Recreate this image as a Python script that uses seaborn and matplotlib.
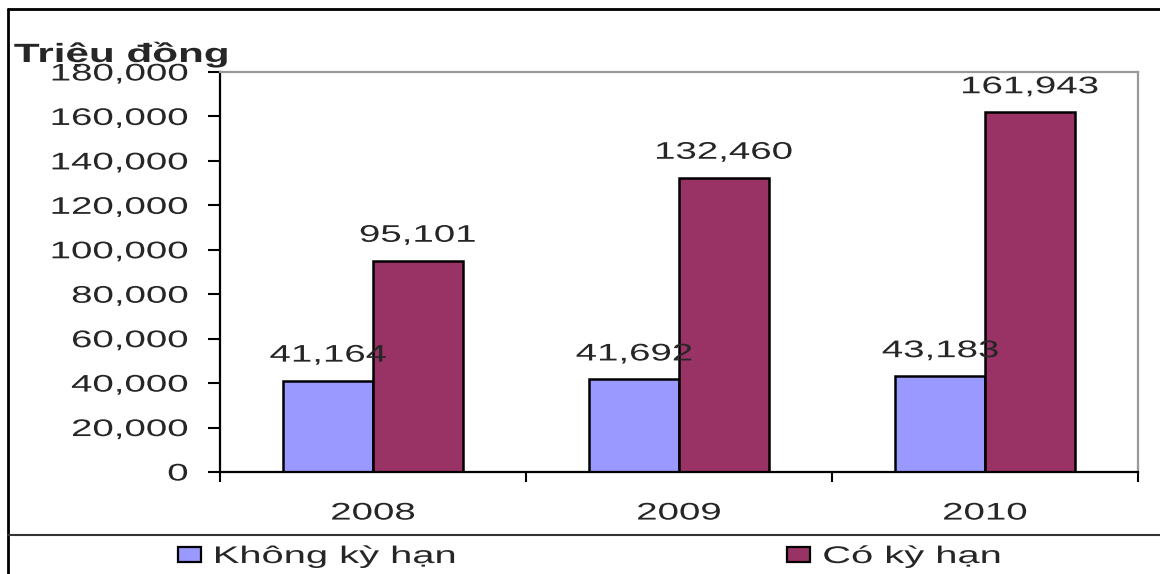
import matplotlib
matplotlib.use("Agg")
import matplotlib.pyplot as plt
import seaborn as sns
import pandas as pd
from matplotlib.patches import Patch
from matplotlib.lines import Line2D
from matplotlib.patheffects import AbstractPathEffect
from matplotlib.transforms import Affine2D
from matplotlib.ticker import FuncFormatter

# ---- data ----
years = ["2008", "2009", "2010"]
series_names = ["Không kỳ hạn", "Có kỳ hạn"]
khong_ky_han = [41164, 41692, 43183]
co_ky_han = [95101, 132460, 161943]
y_ticks = [0, 20000, 40000, 60000, 80000, 100000, 120000, 140000, 160000, 180000]
unit_label = "Triệu đồng"
bar_colors = ["#9999FF", "#993366"]

sns.set_style("white")
plt.rcParams["font.family"] = ["Liberation Sans", "DejaVu Sans"]


class WideText(AbstractPathEffect):
    """Draw glyph outlines widened horizontally about an anchor point of the text."""

    def __init__(self, sx=1.6, anchor=0.5):
        super().__init__()
        self.sx = sx
        self.anchor = anchor

    def draw_path(self, renderer, gc, tpath, affine, rgbFace=None):
        ext = tpath.get_extents()
        x0 = ext.x0 + self.anchor * ext.width
        widen = Affine2D().translate(-x0, 0).scale(self.sx, 1.0).translate(x0, 0)
        renderer.draw_path(gc, tpath, widen + affine, rgbFace)


SX = 1.6
FS = 17.3

df = pd.DataFrame({
    "year": years * 2,
    "series": [series_names[0]] * len(years) + [series_names[1]] * len(years),
    "value": khong_ky_han + co_ky_han,
})

W, H = 1160, 574
fig = plt.figure(figsize=(W / 100, H / 100), dpi=100)
ax = fig.add_axes([220 / W, 1 - 472 / H, (1138 - 220) / W, (472 - 72) / H])

sns.barplot(
    data=df, x="year", y="value", hue="series", order=years,
    hue_order=series_names, palette=bar_colors, width=0.585, gap=0,
    edgecolor="black", linewidth=1.8, saturation=1, legend=False, ax=ax,
)

ax.set_xlim(-0.5, len(years) - 0.5)
ax.set_ylim(y_ticks[0], y_ticks[-1])
ax.set_yticks(y_ticks)
ax.yaxis.set_major_formatter(FuncFormatter(lambda v, p: f"{v:,.0f}"))
ax.set_xticks(range(len(years)))
ax.set_xticklabels(years)
ax.set_xticks([i - 0.5 for i in range(len(years) + 1)], minor=True)
ax.set_xlabel("")
ax.set_ylabel("")

ax.tick_params(axis="y", which="major", direction="out", length=9, width=1.5,
               color="black", pad=14, labelsize=FS, left=True)
ax.tick_params(axis="x", which="major", length=0, pad=22, labelsize=FS)
ax.tick_params(axis="x", which="minor", direction="out", length=7, width=1.5,
               color="black", bottom=True)

for side in ["left", "bottom"]:
    ax.spines[side].set_color("black")
    ax.spines[side].set_linewidth(1.6)
for side in ["top", "right"]:
    ax.spines[side].set_color("#999999")
    ax.spines[side].set_linewidth(1.6)
    ax.spines[side].set_visible(True)

for lab in ax.get_yticklabels():
    lab.set_path_effects([WideText(SX, 1.0)])
for lab in ax.get_xticklabels():
    lab.set_path_effects([WideText(SX, 0.5)])

# value labels above each bar
for cont in ax.containers:
    texts = ax.bar_label(cont, fmt="{:,.0f}", padding=10, fontsize=FS)
    for t in texts:
        t.set_path_effects([WideText(SX, 0.5)])

# unit label above the value axis
fig.text(14 / W, 1 - 62 / H, unit_label, fontsize=19, fontweight="bold",
         ha="left", va="baseline", path_effects=[WideText(SX, 0.0)])

# legend row below the chart
legend_x = [178, 787]
for name, col, lx in zip(series_names, bar_colors, legend_x):
    leg = fig.legend(
        handles=[Patch(facecolor=col, edgecolor="black", linewidth=1.6, label=name)],
        loc="center left", bbox_to_anchor=(lx / W, 1 - 557 / H),
        bbox_transform=fig.transFigure, frameon=False, fontsize=FS,
        borderpad=0, borderaxespad=0, handlelength=0.96, handleheight=0.6,
        handletextpad=0.54,
    )
    for t in leg.get_texts():
        t.set_path_effects([WideText(1.66, 0.0)])

# chart frame and legend separator
fig.add_artist(Line2D([8 / W, 8 / W], [0, 1 - 9 / H], transform=fig.transFigure,
                      color="black", lw=2))
fig.add_artist(Line2D([8 / W, 1], [1 - 9 / H, 1 - 9 / H], transform=fig.transFigure,
                      color="black", lw=2))
fig.add_artist(Line2D([8 / W, 1], [1 - 535 / H, 1 - 535 / H], transform=fig.transFigure,
                      color="#333333", lw=1.5))

fig.savefig("out.png", dpi=100, facecolor="white")
